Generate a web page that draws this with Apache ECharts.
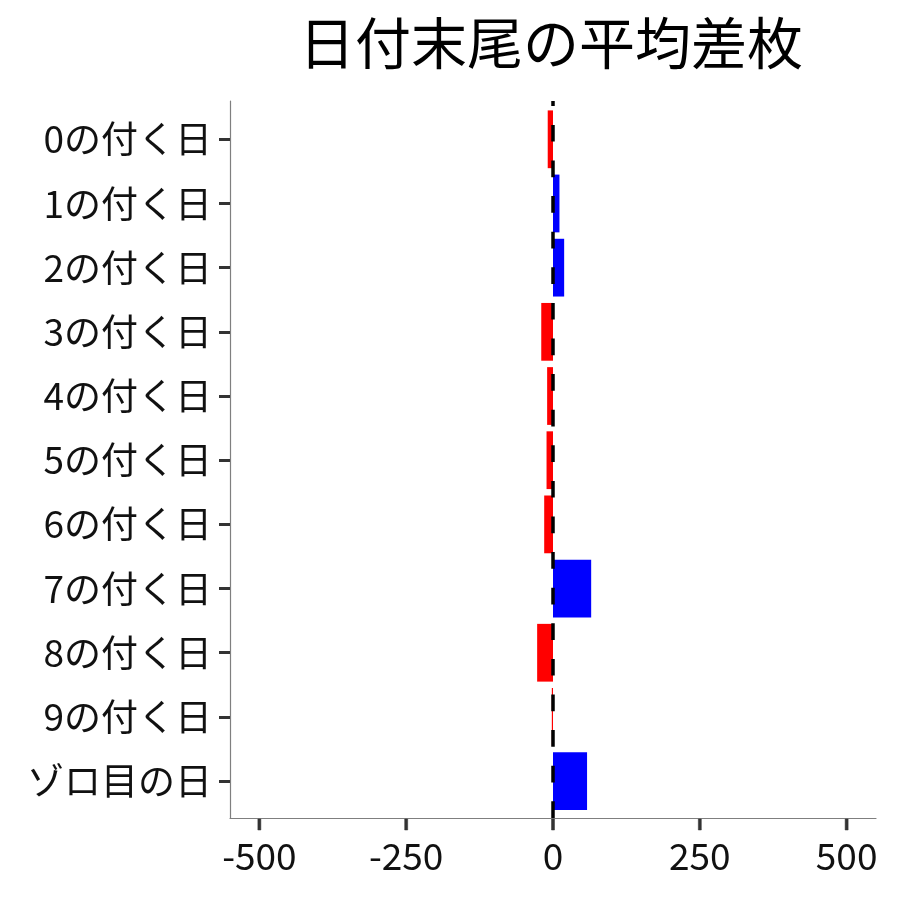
<!DOCTYPE html>
<html><head><meta charset="utf-8">
<script src="https://cdn.jsdelivr.net/npm/echarts@6/dist/echarts.min.js"></script>
<style>html,body{margin:0;padding:0;background:#fff}#c{width:900px;height:900px}</style>
</head><body><div id="c"></div>
<script>
const titleText = "日付末尾の平均差枚";
const categories = ["0の付く日","1の付く日","2の付く日","3の付く日","4の付く日","5の付く日","6の付く日","7の付く日","8の付く日","9の付く日","ゾロ目の日"];
const values = [-9, 11, 19, -20, -10, -11, -15, 65, -27, -2, 58];
const xTicks = [-500, -250, 0, 250, 500];
const refLine = 0;

const FONT = '"Noto Sans CJK JP", "Noto Sans", sans-serif';
const TICK_LEN = 11;
const chart = echarts.init(document.getElementById('c'), null, {renderer: 'canvas'});
chart.setOption({
  animation: false,
  backgroundColor: '#fff',
  title: {
    text: titleText, left: 546, top: 10, textAlign: 'center',
    textStyle: {fontFamily: FONT, fontSize: 56, fontWeight: 'normal', color: '#000'}
  },
  grid: [
    {left: 230, right: 24, top: 107.2, bottom: 86.8},
    {left: 230, right: 24, top: 101, bottom: 82}
  ],
  xAxis: [
    {gridIndex: 0, type: 'value', min: -550, max: 550, show: false},
    {gridIndex: 1, type: 'value', min: -550, max: 550, splitLine: {show: false},
     axisLine: {show: true, onZero: false, lineStyle: {color: '#7f7f7f', width: 1.2}},
     axisTick: {show: false}, axisLabel: {show: false}}
  ],
  yAxis: [
    {gridIndex: 0, type: 'category', data: categories, inverse: true,
     axisLine: {show: false, onZero: false},
     axisTick: {show: true, alignWithLabel: true, length: TICK_LEN, lineStyle: {color: '#333', width: 3}},
     axisLabel: {margin: 18, fontFamily: FONT, fontSize: 37, color: '#111'},
     splitLine: {show: false}},
    {gridIndex: 1, type: 'value', min: 0, max: 1, splitLine: {show: false},
     axisLine: {show: true, onZero: false, lineStyle: {color: '#7f7f7f', width: 1.2}},
     axisTick: {show: false}, axisLabel: {show: false}}
  ],
  series: [
    {
      type: 'bar', xAxisIndex: 0, yAxisIndex: 0, data: values, barCategoryGap: '10%',
      itemStyle: {color: p => p.value < 0 ? '#ff0000' : '#0000ff'}
    },
    {
      type: 'line', xAxisIndex: 1, yAxisIndex: 1, data: [[refLine, 0]], symbol: 'none', z: 5,
      lineStyle: {width: 0},
      markLine: {
        silent: true, symbol: 'none', label: {show: false}, z: 5,
        lineStyle: {color: '#000', width: 3.5, type: [16.7, 18.9], dashOffset: 0},
        data: [{xAxis: refLine}]
      }
    },
    {
      // x-axis tick marks and tick labels, placed through the panel's value scale
      type: 'custom', xAxisIndex: 1, yAxisIndex: 1, silent: true, clip: false,
      zlevel: 1, z: 100,
      data: xTicks.map(v => [v, 0]),
      renderItem: (params, api) => {
        const p = api.coord([api.value(0), 0]);
        return {
          type: 'group',
          children: [
            {type: 'rect', z2: 10, shape: {x: p[0] - 1.5, y: p[1] + 1, width: 3, height: TICK_LEN},
             style: {fill: '#333', stroke: '#333', lineWidth: 0.5}},
            {type: 'text', x: p[0], y: p[1] + 19,
             style: {text: String(api.value(0)), fill: '#111', font: '37px ' + FONT,
                     align: 'center', verticalAlign: 'top'}}
          ]
        };
      }
    }
  ]
});
</script></body></html>
